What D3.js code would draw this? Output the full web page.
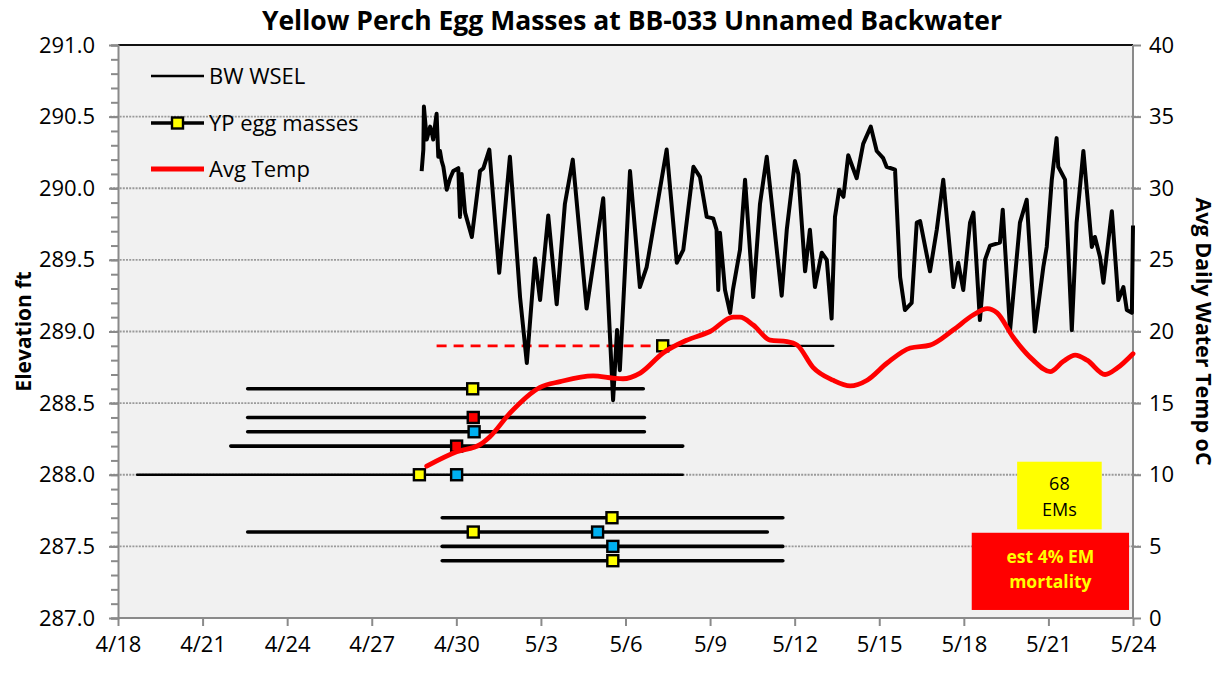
<!DOCTYPE html>
<html><head><meta charset="utf-8">
<script src="https://cdn.jsdelivr.net/npm/d3@7"></script>
<style>
body{margin:0;background:#fff;}
svg{display:block;font-family:"Open Sans",sans-serif;}
</style>
</head><body>
<svg id="chart" width="1225" height="677"></svg>
<script>
// ---------------- data ----------------
const chartTitle = "Yellow Perch Egg Masses at BB-033 Unnamed Backwater";
const leftAxisTitle = "Elevation ft";
const rightAxisTitle = "Avg Daily Water Temp oC";
const baseDate = "4/18/2013";            // day 0 of the day offsets below
const xTickLabels = ["4/18","4/21","4/24","4/27","4/30","5/3","5/6","5/9","5/12","5/15","5/18","5/21","5/24"];
const elevTicks = [287.0,287.5,288.0,288.5,289.0,289.5,290.0,290.5,291.0];
const tempTicks = [0,5,10,15,20,25,30,35,40];
const legendLabels = ["BW WSEL","YP egg masses","Avg Temp"];

// BW WSEL (days after 4/18, elevation ft)
const wselDay = [10.77,10.83,10.85,10.95,11.07,11.13,11.18,11.30,11.36,11.42,
 11.48,11.54,11.66,11.78,11.89,12.07,12.13,12.19,12.31,12.55,
 12.84,12.96,13.17,13.52,13.90,14.26,14.50,14.79,14.97,15.26,
 15.56,15.85,16.13,16.62,17.21,17.56,17.70,17.80,18.16,18.51,
 18.75,19.46,19.82,20.05,20.41,20.64,20.88,21.11,21.23,21.29,
 21.35,21.53,21.71,21.81,22.06,22.24,22.53,22.77,23.01,23.54,
 23.72,24.01,24.13,24.37,24.54,24.72,24.96,25.14,25.31,25.43,
 25.58,25.73,25.90,26.20,26.43,26.70,26.91,27.14,27.26,27.56,
 27.74,27.91,28.15,28.33,28.45,28.80,29.04,29.27,29.63,29.80,
 29.98,30.22,30.34,30.57,30.75,30.93,31.28,31.38,31.64,31.99,
 32.23,32.52,32.82,32.94,33.12,33.29,33.35,33.59,33.83,34.00,
 34.24,34.54,34.65,34.83,34.95,35.25,35.48,35.66,35.78,35.96,36.00];
const wselElev = [290.12,290.27,290.57,290.34,290.43,290.39,290.34,290.52,290.22,290.26,
 290.19,290.15,289.99,290.07,290.12,290.14,289.80,290.10,289.83,289.66,
 290.12,290.14,290.27,289.41,290.22,289.24,288.78,289.51,289.22,289.81,
 289.19,289.89,290.20,289.16,289.93,288.52,289.01,288.73,290.12,289.31,
 289.45,290.27,289.48,289.57,290.15,290.08,289.80,289.79,289.71,289.29,
 289.69,289.29,289.13,289.29,289.57,290.06,289.24,289.89,290.22,289.25,
 289.71,290.19,290.10,289.42,289.71,289.31,289.55,289.50,289.09,289.80,
 289.99,289.94,290.23,290.07,290.31,290.43,290.26,290.21,290.15,290.13,
 289.38,289.15,289.20,289.76,289.77,289.42,289.71,290.06,289.31,289.48,
 289.29,289.76,289.83,289.08,289.50,289.60,289.62,289.85,289.01,289.76,
 289.92,289.00,289.45,289.59,290.06,290.35,290.15,290.06,289.01,289.76,
 290.26,289.59,289.66,289.52,289.34,289.84,289.22,289.31,289.15,289.13,289.74];

// Avg daily water temp (days after 4/18, deg C)
const tempDay = [10.95,12.01,12.84,13.19,13.90,14.97,15.68,16.85,17.56,17.91,
 18.52,19.33,20.18,21.00,21.82,22.06,22.53,23.13,23.73,24.09,
 24.65,25.36,25.97,26.57,27.28,28.10,28.80,29.62,30.33,30.83,
 31.18,31.75,32.46,33.06,33.52,33.95,34.37,35.01,35.44,36.00];
const tempC = [10.6,11.6,12.1,12.65,14.3,16.1,16.5,16.9,16.75,16.7,
 17.1,18.5,19.4,20.0,21.0,21.0,20.45,19.4,19.3,19.05,
 17.5,16.6,16.2,16.6,17.8,18.85,19.05,20.1,21.15,21.6,
 21.3,19.6,18.0,17.2,17.9,18.35,18.0,17.0,17.45,18.45];

// YP egg mass range bars (elevation, start day, end day)
const emElev  = [288.9, 288.6, 288.4, 288.3, 288.2, 288.0, 287.7, 287.6, 287.5, 287.4];
const emStart = [19.32, 4.60, 4.60, 4.60, 4.00, 0.68, 11.50, 4.60, 11.50, 11.50];
const emEnd   = [25.37, 18.63, 18.67, 18.67, 20.03, 20.03, 23.58, 23.03, 23.58, 23.58];
// egg mass observation markers
const markDay   = [19.32, 12.58, 12.60, 12.63, 12.01, 10.69, 12.01, 17.52, 12.60, 17.01, 17.55, 17.55];
const markElev  = [288.9, 288.6, 288.4, 288.3, 288.2, 288.0, 288.0, 287.7, 287.6, 287.6, 287.5, 287.4];
const markClass = ["yellow","yellow","red","blue","red","yellow","blue","yellow","yellow","blue","blue","yellow"];
// dashed threshold segment (elevation, start day, end day)
const dashElev = 288.9, dashStart = 11.30, dashEnd = 19.32;

// annotation boxes
const noteCount = ["68","EMs"];
const noteMort  = ["est 4% EM","mortality"];

// ---------------- layout ----------------
const W = 1225, H = 677;
const M = {left:118, right:92, top:45, bottom:59};
const fillFor = {yellow:"#ffff00", red:"#ff0000", blue:"#00b0f0"};

const svg = d3.select("#chart");
const parse = d3.utcParse("%m/%d/%Y");
const base = parse(baseDate);
const dayToDate = d => new Date(base.getTime() + d*86400000);
const tickDates = xTickLabels.map(s => parse(s + "/2013"));

const x = d3.scaleUtc().domain([tickDates[0], tickDates[tickDates.length-1]]).range([M.left, W-M.right]);
const yL = d3.scaleLinear().domain([287,291]).range([H-M.bottom, M.top]);
const yR = d3.scaleLinear().domain([0,40]).range([H-M.bottom, M.top]);

// plot background
svg.append("rect").attr("x",M.left).attr("y",M.top)
  .attr("width",W-M.left-M.right).attr("height",H-M.top-M.bottom).attr("fill","#f1f1f1");

// gridlines
svg.append("g").selectAll("line").data(elevTicks.filter(v => v>287 && v<291)).join("line")
  .attr("x1",M.left-8).attr("x2",W-M.right+8)
  .attr("y1",d=>yL(d)).attr("y2",d=>yL(d))
  .attr("stroke","#9a9a9a").attr("stroke-width",1.8).attr("stroke-dasharray","2,1.2");

// top border
svg.append("line").attr("x1",M.left).attr("x2",W-M.right).attr("y1",M.top).attr("y2",M.top)
  .attr("stroke","#111").attr("stroke-width",1.8);

// axes
const minorTicks = d3.range(2870,2911).map(v=>v/10);
const gL = svg.append("g").attr("transform",`translate(${M.left},0)`)
  .call(d3.axisLeft(yL).tickValues(minorTicks).tickSize(7).tickFormat(""));
gL.selectAll("path,line").attr("stroke","#8a8a8a").attr("stroke-width",2);
const gL2 = svg.append("g").attr("transform",`translate(${M.left},0)`)
  .call(d3.axisLeft(yL).tickValues(elevTicks).tickSize(9).tickPadding(14).tickFormat(d3.format(".1f")));
gL2.select(".domain").remove();
gL2.selectAll("line").attr("stroke","#8a8a8a").attr("stroke-width",2);
gL2.selectAll("text").attr("font-size",22).attr("fill","#000").attr("font-family","Open Sans");

const gR = svg.append("g").attr("transform",`translate(${W-M.right},0)`)
  .call(d3.axisRight(yR).tickValues(tempTicks).tickSize(8).tickPadding(8));
gR.selectAll("path,line").attr("stroke","#8a8a8a").attr("stroke-width",2);
gR.select(".domain").attr("d",`M0,${M.top}V${H-M.bottom}`);
gR.selectAll("text").attr("font-size",22).attr("fill","#000").attr("font-family","Open Sans");

const gB = svg.append("g").attr("transform",`translate(0,${H-M.bottom})`)
  .call(d3.axisBottom(x).tickValues(tickDates).tickSize(8).tickPadding(10).tickFormat((d,i)=>xTickLabels[i]));
gB.selectAll("path,line").attr("stroke","#8a8a8a").attr("stroke-width",2);
gB.select(".domain").attr("d",`M${M.left},0H${W-M.right}`);
gB.selectAll("text").attr("font-size",22).attr("fill","#000").attr("font-family","Open Sans");

// egg mass range bars
const thinRows = new Set([0,5]);
svg.append("g").selectAll("line").data(emElev).join("line")
  .attr("x1",(d,i)=>x(dayToDate(emStart[i]))).attr("x2",(d,i)=>x(dayToDate(emEnd[i])))
  .attr("y1",d=>yL(d)).attr("y2",d=>yL(d))
  .attr("stroke","#000").attr("stroke-width",(d,i)=>thinRows.has(i)?2.4:3.6).attr("stroke-linecap","round");

// dashed red segment
svg.append("line")
  .attr("x1",x(dayToDate(dashStart))).attr("x2",x(dayToDate(dashEnd)))
  .attr("y1",yL(dashElev)).attr("y2",yL(dashElev))
  .attr("stroke","#ff0000").attr("stroke-width",2.8).attr("stroke-dasharray","10,7");

// WSEL line
svg.append("path").datum(wselDay.map((d,i)=>[d,wselElev[i]]))
  .attr("fill","none").attr("stroke","#000").attr("stroke-width",4).attr("stroke-linejoin","round")
  .attr("d",d3.line().x(d=>x(dayToDate(d[0]))).y(d=>yL(d[1])));

// markers
svg.append("g").selectAll("rect").data(markDay).join("rect")
  .attr("x",(d,i)=>x(dayToDate(d))-5.5).attr("y",(d,i)=>yL(markElev[i])-5.5)
  .attr("width",11).attr("height",11)
  .attr("fill",(d,i)=>fillFor[markClass[i]]).attr("stroke","#000").attr("stroke-width",2.4);

// temperature line
svg.append("path").datum(tempDay.map((d,i)=>[d,tempC[i]]))
  .attr("fill","none").attr("stroke","#ff0000").attr("stroke-width",4.8).attr("stroke-linecap","round")
  .attr("d",d3.line().curve(d3.curveMonotoneX).x(d=>x(dayToDate(d[0]))).y(d=>yR(d[1])));

// legend
const lg = svg.append("g");
const lgY = [76,123,169], lgX1 = 151, lgX2 = 204;
lg.append("line").attr("x1",lgX1).attr("x2",lgX2).attr("y1",lgY[0]).attr("y2",lgY[0]).attr("stroke","#000").attr("stroke-width",2.4);
lg.append("line").attr("x1",lgX1).attr("x2",lgX2).attr("y1",lgY[1]).attr("y2",lgY[1]).attr("stroke","#000").attr("stroke-width",3.6);
lg.append("rect").attr("x",(lgX1+lgX2)/2-5.5).attr("y",lgY[1]-5.5).attr("width",11).attr("height",11)
  .attr("fill","#ffff00").attr("stroke","#000").attr("stroke-width",2.4);
lg.append("line").attr("x1",lgX1).attr("x2",lgX2).attr("y1",lgY[2]).attr("y2",lgY[2]).attr("stroke","#ff0000").attr("stroke-width",4.8);
lg.selectAll("text").data(legendLabels).join("text")
  .attr("x",209).attr("y",(d,i)=>lgY[i]).attr("dy","0.35em")
  .attr("font-size",22).attr("fill","#000").text(d=>d);

// annotation boxes
const yb = svg.append("g");
yb.append("rect").attr("x",x(dayToDate(31.89))).attr("y",yR(10.91))
  .attr("width",x(dayToDate(34.89))-x(dayToDate(31.89))).attr("height",yR(6.19)-yR(10.91)).attr("fill","#ffff00");
yb.selectAll("text").data(noteCount).join("text")
  .attr("x",x(dayToDate(33.39))).attr("y",(d,i)=>yR(10.91)+22+i*26)
  .attr("dy","0.35em").attr("text-anchor","middle").attr("font-size",18).attr("fill","#000").text(d=>d);
const rb = svg.append("g");
rb.append("rect").attr("x",x(dayToDate(30.28))).attr("y",yR(5.95))
  .attr("width",x(dayToDate(35.86))-x(dayToDate(30.28))).attr("height",yR(0.56)-yR(5.95)).attr("fill","#ff0000");
rb.selectAll("text").data(noteMort).join("text")
  .attr("x",x(dayToDate(33.07))).attr("y",(d,i)=>yR(5.95)+24+i*25)
  .attr("dy","0.35em").attr("text-anchor","middle").attr("font-size",17.5).attr("font-weight","bold")
  .attr("fill","#ffff00").text(d=>d);

// titles
svg.append("text").attr("x",632).attr("y",21).attr("dy","0.35em")
  .attr("text-anchor","middle").attr("font-size",26.5).attr("font-weight","bold").text(chartTitle);
svg.append("text").attr("transform",`translate(24,${(M.top+H-M.bottom)/2}) rotate(-90)`)
  .attr("dy","0.35em").attr("text-anchor","middle").attr("font-size",21).attr("font-weight","bold").text(leftAxisTitle);
svg.append("text").attr("transform",`translate(1204,${(M.top+H-M.bottom)/2}) rotate(90)`)
  .attr("dy","0.35em").attr("text-anchor","middle").attr("font-size",21.5).attr("font-weight","bold").text(rightAxisTitle);
</script>
</body></html>
